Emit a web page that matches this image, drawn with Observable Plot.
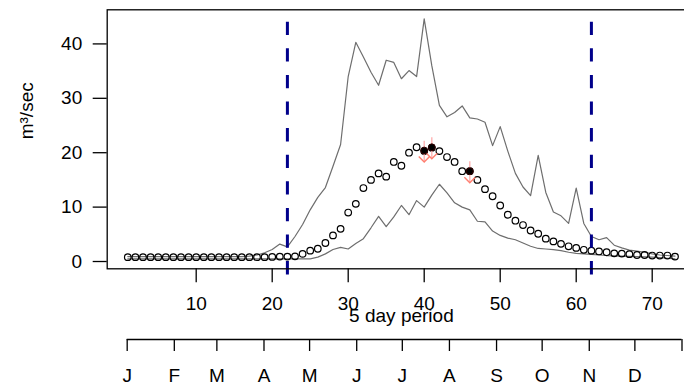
<!DOCTYPE html>
<html><head><meta charset="utf-8">
<script src="https://cdn.jsdelivr.net/npm/d3@7"></script>
<script src="https://cdn.jsdelivr.net/npm/@observablehq/plot@0.6"></script>
<style>
html,body{margin:0;padding:0;background:#fff;}
#chart svg{display:block;}
#chart svg g[aria-label$="tick"] path{stroke-width:1.3;}
</style></head><body><div id="chart"></div>
<script>
// 5-day periods 1..73
const periods = d3.range(1, 74);
// mean flow (open circles)
const meanFlow = [
  0.8,0.8,0.8,0.8,0.8,0.8,0.8,0.8,0.8,0.8,0.8,0.8,0.8,0.8,0.8,0.8,0.8,0.8,0.8,
  0.85,0.9,0.9,0.95,1.4,2.0,2.35,3.4,4.8,6.0,9.0,10.6,13.5,15.0,16.2,15.6,18.3,17.6,20.0,21.0,
  20.3,20.9,20.3,19.2,18.3,16.6,16.6,15.0,13.3,12.0,10.3,8.6,7.5,6.7,5.7,5.1,4.2,3.7,3.25,2.8,
  2.5,2.15,2.0,1.85,1.7,1.5,1.45,1.35,1.2,1.2,1.1,1.1,1.1,0.9
];
// upper envelope (grey line)
const upperFlow = [
  0.9,0.9,0.9,0.9,0.9,0.9,0.9,0.9,0.9,0.9,0.9,0.9,0.9,0.9,0.9,0.9,
  1.0,1.2,1.6,2.2,3.2,2.7,4.6,6.8,9.5,11.8,13.6,17.5,21.5,34.0,40.3,37.6,34.8,32.4,37.0,36.6,
  33.6,35.1,34.0,44.6,36.0,28.7,26.6,27.4,28.6,26.4,26.2,25.6,21.3,24.8,20.3,16.2,13.7,12.1,
  19.5,12.7,9.1,8.4,7.0,13.5,7.0,4.6,4.0,4.4,3.0,2.5,2.1,1.9,1.7,1.4,1.2,1.1,1.0
];
// lower envelope (grey line)
const lowerFlow = [
  0.5,0.5,0.5,0.5,0.5,0.5,0.5,0.5,0.5,0.5,0.5,0.5,0.5,0.5,0.5,0.5,0.5,0.5,0.5,0.5,0.5,0.5,0.5,0.5,0.5,
  0.8,1.4,2.2,2.6,2.3,3.3,4.2,6.2,8.3,6.4,8.2,10.3,8.6,11.2,10.0,12.2,14.2,12.6,10.8,10.0,9.5,
  7.4,7.3,5.6,4.8,4.3,4.0,3.4,2.8,2.4,2.3,2.2,2.0,1.7,1.5,1.4,1.3,1.2,1.1,1.05,1.0,0.95,0.9,0.85,0.8,0.7,0.6,0.5
];
// current-year observations (filled points)
const obsPeriods = [40, 41, 46];
const obsFlow = [20.4, 21.0, 16.6];
// season limits (dashed lines)
const seasonLines = [22, 62];
const xTicks = [10, 20, 30, 40, 50, 60, 70];
const yTicks = [0, 10, 20, 30, 40];
const monthLabels = ["J","F","M","A","M","J","J","A","S","O","N","D",""];
const monthStartDays = [0,31,59,90,120,151,181,212,243,273,304,334,365];
const monthOffset = 0.92;
const monthPos = monthStartDays.map(d => monthOffset + d / 5);

const font = "'Liberation Sans', Arial, sans-serif";
const xDomain = [-1.71, 75.71];

const shaftSymbol = {draw(ctx, size) { const r = Math.sqrt(size / Math.PI); ctx.moveTo(0, -3 * r); ctx.lineTo(0, 3.4 * r); }};
const headSymbol = {draw(ctx, size) { const r = Math.sqrt(size / Math.PI); ctx.moveTo(-1.65 * r, 1.8 * r); ctx.lineTo(0, 3.5 * r); ctx.lineTo(1.65 * r, 1.8 * r); }};

const main = Plot.plot({
  width: 684, height: 334,
  marginLeft: 106.7, marginRight: -11.1, marginTop: 9.3, marginBottom: 65.7,
  style: {fontFamily: font, fontSize: "19px", color: "#000", background: "#fff", overflow: "hidden"},
  x: {domain: xDomain, ticks: xTicks, tickSize: 14, tickPadding: 14, label: null},
  y: {domain: [-1.34, 46.27], ticks: yTicks, tickSize: 14, tickPadding: 11, label: null},
  marks: [
    Plot.line(upperFlow, {x: (d, i) => periods[i], y: d => d, stroke: "#6e6e6e", strokeWidth: 1.2}),
    Plot.line(lowerFlow, {x: (d, i) => periods[i], y: d => d, stroke: "#6e6e6e", strokeWidth: 1.2}),
    Plot.dot(meanFlow, {x: (d, i) => periods[i], y: d => d, r: 3.3, stroke: "#000", strokeWidth: 1.2, fill: "none"}),
    Plot.dot(obsPeriods, {x: d => d, y: (d, i) => obsFlow[i], r: 3.3, symbol: shaftSymbol, stroke: "#ffb3b3", strokeWidth: 1.4, fill: "none"}),
    Plot.dot(obsPeriods, {x: d => d, y: (d, i) => obsFlow[i], r: 3.3, symbol: headSymbol, stroke: "#ff7f70", strokeWidth: 1.4, fill: "none"}),
    Plot.dot(obsPeriods, {x: d => d, y: (d, i) => obsFlow[i], r: 3.4, fill: "#000", stroke: "#300", strokeWidth: 1}),
    Plot.ruleX(seasonLines, {x: d => d, stroke: "#00008b", strokeWidth: 3, strokeDasharray: "13.3,13.3", insetTop: 12.4, insetBottom: -6.7}),
    Plot.frame({stroke: "#000", strokeWidth: 1.3}),
    Plot.text(["5 day period"], {text: d => d, frameAnchor: "bottom", dy: 53, fontSize: 19}),
    Plot.text(["m³/sec"], {text: d => d, frameAnchor: "left", dx: -80, rotate: -90, fontSize: 19})
  ]
});

const months = Plot.plot({
  width: 684, height: 52,
  marginLeft: 106.7, marginRight: -11.1, marginTop: 0, marginBottom: 47,
  style: {fontFamily: font, fontSize: "19px", color: "#000", background: "#fff", overflow: "hidden"},
  x: {domain: xDomain, ticks: monthPos, tickFormat: d => monthLabels[monthPos.indexOf(d)], tickSize: 12, tickPadding: 17, label: null},
  y: {axis: null, domain: [0, 1]},
  marks: [
    Plot.ruleY([0], {y: d => d, x1: () => monthPos[0], x2: () => monthPos[monthPos.length - 1], stroke: "#000", strokeWidth: 1.3})
  ]
});

const el = document.getElementById("chart");
el.appendChild(main);
el.appendChild(months);
</script>
</body></html>
